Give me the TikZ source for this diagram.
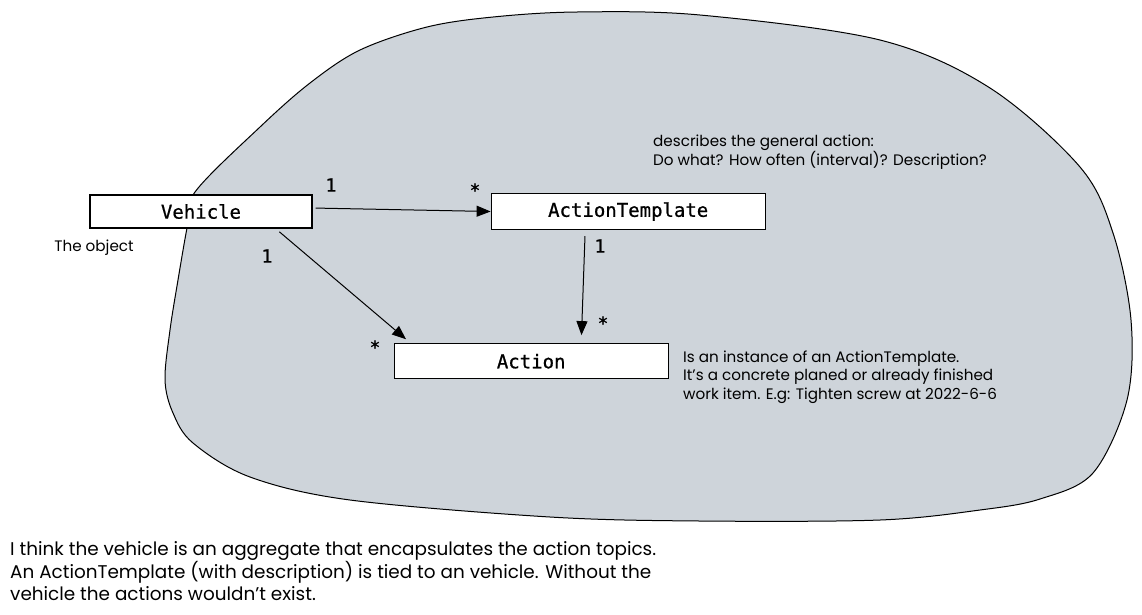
\documentclass[tikz,border=0pt]{standalone}
\usepackage{fontspec}
\setmainfont{Poppins}
\setmonofont{DejaVu Sans Mono}[FakeBold=0.7]
\usetikzlibrary{arrows.meta, positioning, calc}
\definecolor{cBlob}{RGB}{206,212,218}
\tikzset{
  classbox/.style={rectangle, draw=black, fill=white, line width=1.2pt,
                   inner sep=0pt, font=\ttfamily\fontsize{19}{22}\selectfont},
  multnode/.style={inner sep=0pt, font=\ttfamily\fontsize{18}{20}\selectfont},
  notetext/.style={align=left, inner sep=0pt, font=\fontsize{15.2}{18.5}\selectfont},
  bignote/.style={align=left, inner sep=0pt, font=\fontsize{18.4}{22}\selectfont},
  arrow/.style={-{Triangle[length=14pt,width=11pt]}, line width=1pt}
}

\begin{document}
\begin{tikzpicture}[x=1pt, y=-1pt]
  \useasboundingbox (0,0) rectangle (1142,614);

  % Aggregate blob
  \draw[fill=cBlob, line width=1pt] plot[smooth cycle, tension=0.55] coordinates {
    (577,12) (700,15) (880,40) (990,88) (1080,167)
    (1113,233) (1131,320) (1127,400) (1093,473) (1040,499)
    (980,510) (880,520) (700,521) (550,517) (350,500) (250,477) (193,443)
    (173,413) (165,380) (170,330) (178,280) (187,228) (195,192) (260,127)
    (310,83) (360,50) (427,27) (493,17)};

  % Classes
  \node[classbox, minimum width=222pt, minimum height=33pt] (vehicle) at (201,211.5) {Vehicle};
  \node[classbox, minimum width=274pt, minimum height=36pt, right=178pt of vehicle] (tmpl) {ActionTemplate};
  \node[classbox, minimum width=274pt, minimum height=35pt, below=113pt of tmpl, xshift=-97pt] (action) {Action};

  % Associations
  \draw[arrow, shorten <=3pt] ([yshift=3.5pt]vehicle.east) -- (tmpl.west);
  \draw[arrow, shorten <=5pt, shorten >=6pt] ([xshift=-37pt]vehicle.south east) -- ([xshift=17pt]action.north west);
  \draw[arrow, shorten <=6pt, shorten >=8pt] ([xshift=-43pt]tmpl.south) -- ([xshift=50pt]action.north);

  % Multiplicities
  \node[multnode] (m1) at (331,185) {1};
  \node[multnode] (m2) at (475,190) {*};
  \node[multnode] (m3) at (267,256) {1};
  \node[multnode] (m4) at (375,347) {*};
  \node[multnode] (m5) at (600,246) {1};
  \node[multnode] (m6) at (603,323) {*};

  % Notes
  \node[notetext, anchor=center] (objnote) at (94,248) {The object};
  \node[notetext, anchor=west] (tmplnote) at (653,152)
      {describes the general action:\\Do what? How often (interval)? Description?};
  \node[notetext, anchor=west] (actnote) at (683,377)
      {Is an instance of an ActionTemplate.\\It's a concrete planed or already finished\\work item. E.g: Tighten screw at 2022-6-6};
  \node[bignote, anchor=west] (summary) at (10,571)
      {I think the vehicle is an aggregate that encapsulates the action topics.\\An ActionTemplate (with description) is tied to an vehicle. Without the\\vehicle the actions wouldn't exist.};

\end{tikzpicture}
\end{document}
